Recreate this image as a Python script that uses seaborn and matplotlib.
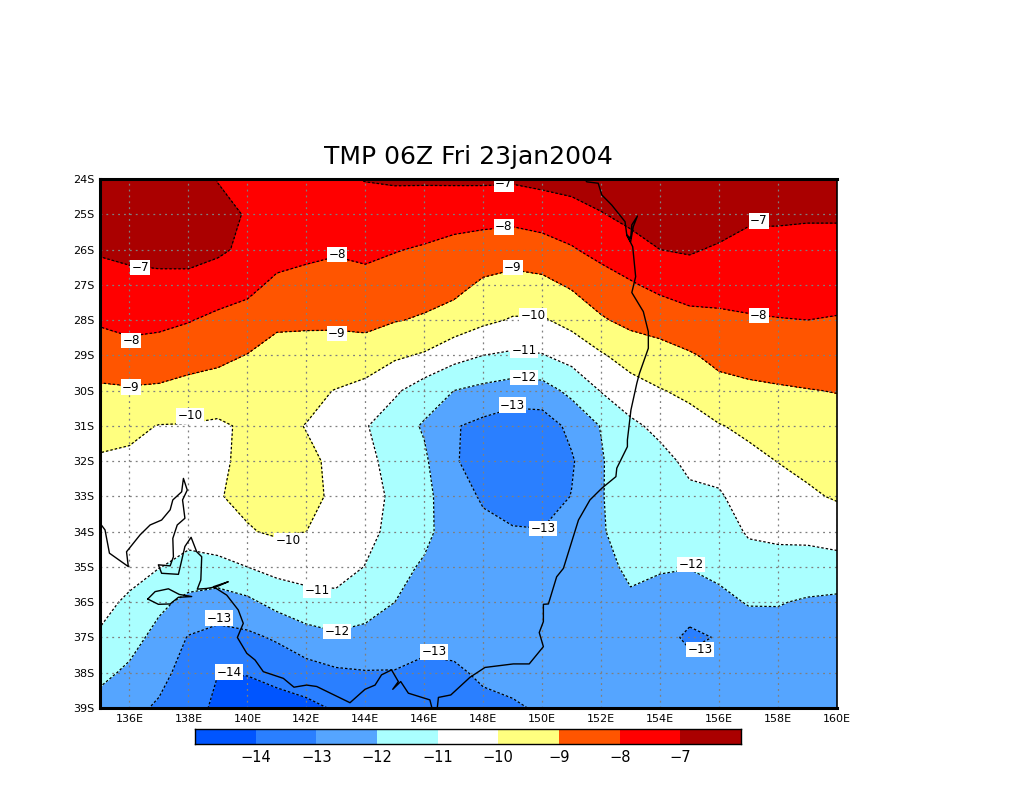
import numpy as np
import pandas as pd
import matplotlib
matplotlib.use("Agg")
import matplotlib.pyplot as plt
from matplotlib.colors import ListedColormap
import seaborn as sns

TITLE = "TMP 06Z Fri 23jan2004"
LATS_S = [24, 25, 26, 27, 28, 29, 30, 31, 32, 33, 34, 35, 36, 37, 38, 39]
LONS = list(range(135, 161))

T135 = [-6.2, -6.5, -6.9, -7.39, -7.88, -8.5, -9.14, -9.71, -10.09, -10.28, -10.46, -10.65, -10.83, -11.07, -11.73, -12.4]
T136 = [-6.1, -6.35, -6.8, -7.25, -7.72, -8.33, -9.1, -9.81, -10.15, -10.35, -10.55, -10.78, -11.1, -11.6, -12.2, -12.8]
T137 = [-6.0, -6.2, -6.7, -7.25, -7.78, -8.42, -9.15, -10.03, -10.05, -10.2, -10.6, -10.97, -11.76, -12.35, -12.77, -13.1]
T138 = [-6.1, -6.2, -6.6, -7.33, -7.95, -8.6, -9.33, -10.05, -10.15, -10.3, -10.7, -11.28, -12.28, -13.05, -13.3, -13.4]
T139 = [-7.08, -6.4, -6.85, -7.49, -8.21, -8.77, -9.43, -10.15, -10.15, -10.05, -10.35, -11.31, -12.47, -13.3, -13.98, -14.3]
T140 = [-7.2, -7.15, -7.2, -7.75, -8.37, -9.03, -9.4, -9.85, -9.8, -9.8, -10.07, -11.0, -12.21, -13.21, -13.95, -14.5]
T141 = [-7.15, -7.3, -7.6, -8.2, -8.84, -9.3, -9.6, -9.85, -9.75, -9.75, -9.87, -10.68, -11.68, -12.88, -13.7, -14.4]
T142 = [-7.1, -7.3, -7.75, -8.35, -8.85, -9.35, -9.8, -10.02, -9.9, -9.85, -10.0, -10.6, -11.35, -12.4, -13.4, -14.25]
T143 = [-7.08, -7.25, -7.9, -8.39, -8.84, -9.4, -10.03, -10.18, -10.1, -10.1, -10.2, -10.55, -11.29, -12.15, -13.15, -13.9]
T144 = [-6.97, -7.35, -7.75, -8.35, -8.8, -9.35, -10.35, -10.93, -10.7, -10.6, -10.7, -11.03, -11.55, -12.3, -13.05, -13.6]
T145 = [-6.88, -7.5, -7.95, -8.46, -8.95, -9.85, -10.85, -11.55, -11.4, -11.2, -11.3, -11.75, -12.0, -12.45, -13.05, -13.4]
T146 = [-6.9, -7.45, -8.1, -8.6, -9.1, -10.1, -11.5, -12.1, -11.85, -11.75, -11.8, -12.1, -12.15, -12.7, -13.25, -13.7]
T147 = [-6.85, -7.65, -8.26, -8.72, -9.38, -10.65, -12.0, -12.92, -12.92, -12.55, -12.4, -12.3, -12.3, -12.6, -13.2, -13.6]
T148 = [-6.85, -7.65, -8.45, -9.15, -9.8, -11.0, -12.25, -13.25, -13.35, -13.12, -12.75, -12.4, -12.25, -12.4, -12.8, -13.3]
T149 = [-6.88, -7.7, -8.55, -9.33, -10.08, -11.15, -12.45, -13.55, -13.6, -13.5, -12.9, -12.4, -12.2, -12.3, -12.6, -13.15]
T150 = [-6.75, -7.55, -8.4, -9.25, -10.1, -11.05, -12.4, -13.5, -13.7, -13.5, -12.95, -12.45, -12.25, -12.25, -12.4, -12.85]
T151 = [-6.6, -7.4, -8.08, -8.88, -9.7, -10.65, -11.75, -12.75, -13.1, -12.97, -12.55, -12.3, -12.2, -12.2, -12.3, -12.6]
T152 = [-6.45, -7.05, -7.7, -8.45, -9.1, -10.1, -10.95, -11.95, -12.1, -12.08, -12.08, -12.2, -12.15, -12.15, -12.25, -12.45]
T153 = [-6.3, -6.75, -7.35, -8.1, -8.75, -9.6, -10.4, -11.2, -11.2, -11.28, -11.6, -11.87, -12.1, -12.1, -12.2, -12.3]
T154 = [-6.1, -6.5, -7.0, -7.75, -8.6, -9.35, -10.05, -10.75, -11.3, -11.55, -11.75, -11.95, -12.2, -12.4, -12.2, -12.25]
T155 = [-6.0, -6.4, -6.9, -7.55, -8.3, -9.1, -9.8, -10.35, -10.78, -11.2, -11.6, -11.98, -12.3, -13.3, -12.4, -12.2]
T156 = [-6.2, -6.5, -7.12, -7.6, -8.2, -8.75, -9.3, -10.05, -10.6, -11.12, -11.45, -11.8, -12.2, -12.9, -12.35, -12.2]
T157 = [-6.4, -6.85, -7.28, -7.66, -8.08, -8.62, -9.18, -9.8, -10.25, -10.5, -10.9, -11.4, -11.95, -12.4, -12.3, -12.2]
T158 = [-6.4, -6.85, -7.3, -7.63, -8.03, -8.55, -9.1, -9.55, -9.98, -10.4, -10.8, -11.35, -11.95, -12.35, -12.3, -12.25]
T159 = [-6.4, -6.9, -7.3, -7.65, -8.0, -8.5, -9.03, -9.4, -9.75, -10.15, -10.75, -11.4, -12.1, -12.3, -12.3, -12.3]
T160 = [-6.4, -6.9, -7.3, -7.67, -8.05, -8.5, -8.97, -9.35, -9.6, -9.9, -10.6, -11.35, -12.2, -12.3, -12.3, -12.35]

LEVELS = [-14, -13, -12, -11, -10, -9, -8, -7]
COLORS = ["#0055ff", "#2a7fff", "#55a5ff", "#aaffff", "#ffffff", "#ffff7f", "#ff5500", "#ff0000", "#aa0000"]

LABEL_LON = [136.36, 136.05, 136.05, 138.05, 143.04, 143.04, 148.7, 148.7, 149.0, 149.69, 149.38, 149.38,
             149.0, 150.03, 157.35, 157.35, 141.38, 142.36, 143.04, 139.04, 139.38, 146.33, 155.05, 155.35]
LABEL_LAT = [26.5, 28.59, 29.9, 30.72, 26.13, 28.37, 24.14, 25.36, 26.52, 27.86, 28.85, 29.64,
             30.41, 33.9, 25.19, 27.86, 34.24, 35.68, 36.84, 36.45, 37.98, 37.41, 34.92, 37.35]
LABEL_VAL = [-7, -8, -9, -10, -8, -9, -7, -8, -9, -10, -11, -12,
             -13, -13, -7, -8, -10, -11, -12, -13, -14, -13, -12, -13]

COAST_LON = [135.0, 135.17, 135.32, 135.96, 135.90, 136.36, 136.70, 137.09, 137.38, 137.47, 137.77, 137.83, 137.96,
             137.80, 137.88, 137.62, 137.47, 137.49, 137.38, 136.98, 137.09, 137.66, 137.88, 138.09, 138.28, 138.45,
             138.42, 138.30, 138.62, 138.96, 139.35, 138.85, 139.30, 139.69, 139.86, 139.66, 139.98, 140.26, 140.54,
             141.22, 141.58, 142.01, 142.35, 143.48, 143.99, 144.33, 144.55, 144.89, 145.12, 144.93, 145.20, 145.46,
             146.19, 146.26]
COAST_LAT = [33.76, 33.95, 34.61, 34.99, 34.57, 34.09, 33.81, 33.67, 33.38, 33.10, 32.87, 32.49, 32.82,
             33.10, 33.62, 33.81, 34.19, 34.71, 34.97, 34.94, 35.18, 35.21, 34.42, 34.16, 34.57, 34.71,
             35.37, 35.63, 35.61, 35.56, 35.42, 35.56, 35.80, 36.22, 36.60, 37.00, 37.45, 37.64, 37.97,
             38.16, 38.41, 38.35, 38.39, 38.85, 38.47, 38.35, 38.06, 37.92, 38.25, 38.47, 38.25, 38.58,
             38.77, 39.0]
EAST_LON = [146.44, 146.48, 146.90, 147.55, 148.06, 149.02, 149.56, 150.04, 149.90, 150.04, 150.04, 150.21, 150.49,
            150.72, 151.23, 151.62, 152.02, 152.50, 152.53, 152.89, 152.89, 153.01, 153.21, 153.30, 153.60, 153.60,
            153.43, 153.04, 153.17, 153.07, 152.87, 153.0, 153.09, 153.23, 153.04, 153.0, 152.87, 152.81, 152.36,
            152.02, 151.90, 151.51, 151.45]
EAST_LAT = [39.0, 38.70, 38.63, 38.13, 37.85, 37.75, 37.75, 37.26, 36.86, 36.55, 36.06, 36.05, 35.28,
            35.04, 33.67, 33.10, 32.77, 32.44, 32.20, 31.59, 31.40, 30.55, 29.79, 29.51, 28.80, 28.33,
            27.76, 27.22, 26.77, 25.92, 25.59, 25.78, 25.35, 25.05, 25.30, 25.68, 25.59, 25.21, 24.74,
            24.45, 24.12, 24.08, 24.0]
ISLAND_LON = [136.62, 136.87, 137.32, 137.69, 138.11, 137.66, 137.38, 136.98, 136.62]
ISLAND_LAT = [35.91, 35.70, 35.62, 35.78, 35.84, 35.86, 36.05, 36.06, 35.91]

sns.set_theme(style="white", rc={"font.family": ["DejaVu Sans"]})

field = np.column_stack([T135, T136, T137, T138, T139, T140, T141, T142, T143, T144, T145, T146, T147,
                         T148, T149, T150, T151, T152, T153, T154, T155, T156, T157, T158, T159, T160])
lat = -np.array(LATS_S, dtype=float)
lon = np.array(LONS, dtype=float)

W, H = 1024, 800
fig = plt.figure(figsize=(W / 100, H / 100), dpi=100, facecolor="white")
ax = fig.add_axes([100 / W, 1 - 708 / H, 737 / W, 529 / H])

ax.contourf(lon, lat, field, levels=[-30] + LEVELS + [10], colors=COLORS, antialiased=False)
ax.contour(lon, lat, field, levels=LEVELS, colors="black", linewidths=0.9,
           linestyles=[(0, (2.0, 1.6))], antialiased=True)

ax.set_xlim(135, 160)
ax.set_ylim(-39, -24)
xt = list(range(136, 161, 2))
yt = [-v for v in LATS_S]
ax.set_xticks(xt)
ax.set_xticklabels([f"{v}E" for v in xt], fontsize=8, color="black")
ax.set_yticks(yt)
ax.set_yticklabels([f"{v}S" for v in LATS_S], fontsize=8, color="black")
ax.tick_params(axis="both", length=0, pad=4)
ax.grid(True, color="#7f7f7f", linestyle=(0, (1.5, 3.2)), linewidth=0.9)
ax.set_axisbelow(False)
for s in ax.spines.values():
    s.set_linewidth(2.2)
    s.set_color("black")
    s.set_zorder(10)
ax.spines["right"].set_linewidth(1.2)

for x_, y_ in [(COAST_LON, COAST_LAT), (EAST_LON, EAST_LAT), (ISLAND_LON, ISLAND_LAT)]:
    df = pd.DataFrame({"lon": x_, "lat": -np.array(y_)})
    sns.lineplot(data=df, x="lon", y="lat", sort=False, estimator=None, color="black",
                 linewidth=1.0, ax=ax, zorder=5)
ax.set_xlabel("")
ax.set_ylabel("")

for x_, y_, v in zip(LABEL_LON, LABEL_LAT, LABEL_VAL):
    ax.text(x_, -y_, f"\u2212{abs(v)}", ha="center", va="center", fontsize=8.6, color="black", zorder=6,
            bbox=dict(facecolor="white", edgecolor="none", pad=0.8))

fig.text(468 / W, 1 - 157 / H, TITLE, ha="center", va="center", fontsize=18, color="black")

cax = fig.add_axes([195 / W, 1 - 744 / H, 546 / W, 15 / H])
cmap = ListedColormap(COLORS)
sns.heatmap(np.arange(len(COLORS)).reshape(1, -1), cmap=cmap, cbar=False, ax=cax,
            xticklabels=False, yticklabels=False, vmin=-0.5, vmax=len(COLORS) - 0.5)
for s in cax.spines.values():
    s.set_visible(True)
    s.set_linewidth(1.0)
    s.set_color("black")
cax.set_xticks(np.arange(1, len(LEVELS) + 1))
cax.set_xticklabels([f"\u2212{abs(v)}" for v in LEVELS], fontsize=10.5, color="black")
cax.tick_params(axis="x", length=0, pad=4)

fig.savefig("out.png", dpi=100, facecolor="white")
